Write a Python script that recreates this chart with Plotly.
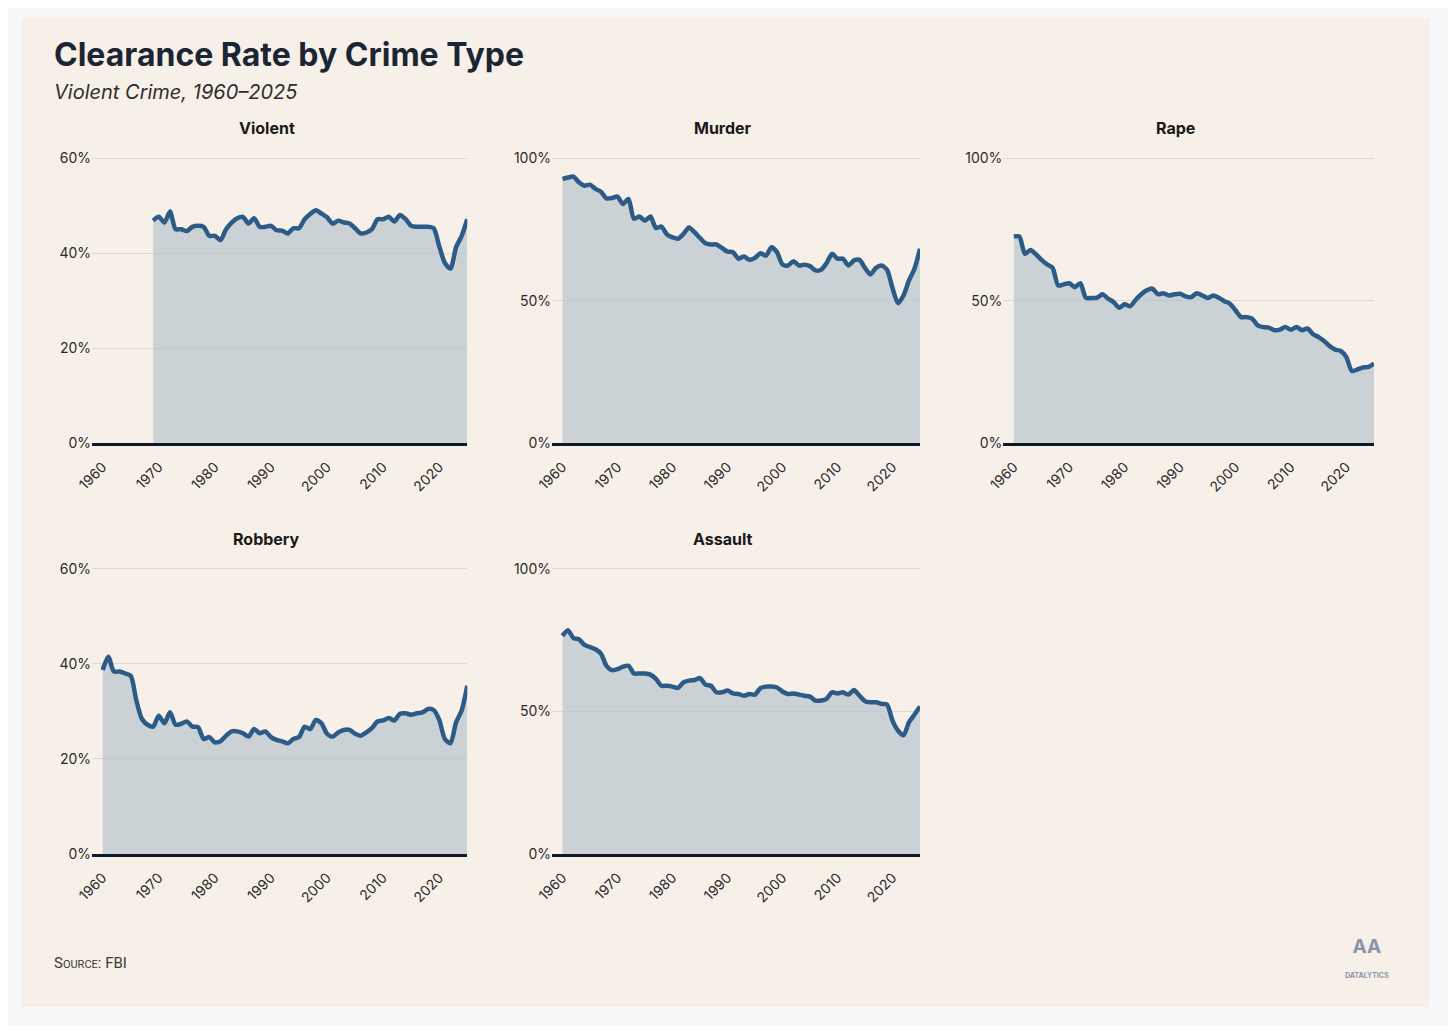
import plotly.graph_objects as go
from plotly.subplots import make_subplots

years = list(range(1960, 2026))
violent_years = list(range(1969, 2026))

violent = [46.9, 47.7, 46.5, 48.8, 45.1, 45.1, 44.7, 45.6, 45.8, 45.6,
           43.7, 43.7, 42.8, 45.1, 46.5, 47.4, 47.7, 46.3, 47.4, 45.6,
           45.6, 45.8, 44.9, 44.8, 44.2, 45.3, 45.3, 47.2, 48.3, 49.1,
           48.4, 47.6, 46.3, 46.9, 46.5, 46.3, 45.3, 44.2, 44.4, 45.1,
           47.2, 47.2, 47.7, 46.7, 48.1, 47.2, 45.8, 45.6, 45.6, 45.6,
           45.3, 41.5, 38.0, 36.8, 41.3, 43.7, 47.2]

murder = [92.8, 93.3, 93.6, 91.6, 90.4, 90.8, 89.3, 88.3, 86.0, 86.1,
          86.6, 84.0, 85.8, 78.8, 79.6, 78.2, 79.6, 75.6, 76.1, 73.3,
          72.3, 71.8, 73.5, 75.8, 74.1, 72.1, 70.2, 69.8, 69.8, 68.6,
          67.3, 67.1, 64.8, 65.6, 64.4, 65.1, 66.7, 65.9, 68.8, 67.1,
          62.8, 62.4, 63.9, 62.4, 62.7, 62.2, 60.7, 60.9, 63.2, 66.5,
          64.8, 64.8, 62.4, 64.2, 64.4, 61.6, 59.3, 61.6, 62.4, 60.9,
          54.5, 49.2, 51.9, 57.2, 61.3, 68.3]

rape = [72.6, 72.6, 66.5, 67.9, 66.3, 64.4, 62.8, 61.6, 55.4, 55.8,
        56.2, 54.8, 56.2, 51.1, 51.0, 51.1, 52.3, 50.8, 49.6, 47.6,
        48.8, 48.1, 50.4, 52.3, 53.7, 54.3, 52.3, 52.7, 51.9, 52.3,
        52.5, 51.6, 51.3, 52.7, 51.9, 51.0, 51.9, 51.1, 49.9, 49.0,
        46.7, 44.3, 44.3, 43.8, 41.4, 40.8, 40.6, 39.7, 39.9, 40.8,
        39.9, 40.8, 39.7, 40.3, 38.3, 37.3, 35.9, 34.1, 32.9, 32.4,
        30.3, 25.4, 25.9, 26.6, 26.8, 28.0]

robbery = [38.7, 41.5, 38.4, 38.4, 38.0, 37.5, 32.3, 28.4, 27.2, 26.8,
           29.1, 27.5, 29.8, 27.2, 27.4, 27.9, 26.8, 26.7, 24.2, 24.6,
           23.5, 23.7, 24.9, 25.8, 25.8, 25.4, 24.7, 26.3, 25.4, 25.8,
           24.6, 24.0, 23.7, 23.3, 24.2, 24.6, 26.8, 26.3, 28.2, 27.5,
           25.3, 24.7, 25.6, 26.1, 26.1, 25.3, 24.9, 25.6, 26.5, 27.9,
           28.1, 28.6, 28.1, 29.5, 29.6, 29.3, 29.6, 29.8, 30.5, 30.3,
           28.2, 24.2, 23.3, 27.7, 30.2, 35.4]

assault = [76.5, 78.5, 75.7, 75.3, 73.3, 72.6, 71.8, 70.3, 66.0, 64.5,
           64.8, 65.7, 66.0, 63.3, 63.3, 63.3, 62.9, 61.4, 59.0, 59.0,
           58.7, 58.2, 60.2, 60.8, 61.0, 61.7, 59.4, 59.0, 56.7, 56.7,
           57.3, 56.3, 56.1, 55.5, 56.1, 55.9, 58.2, 58.7, 58.7, 58.4,
           57.0, 56.1, 56.3, 55.9, 55.5, 55.2, 53.8, 53.8, 54.4, 56.7,
           56.3, 56.7, 55.9, 57.5, 55.5, 53.6, 53.2, 53.2, 52.6, 52.4,
           46.8, 43.3, 41.6, 46.2, 48.9, 51.7]

decade_ticks = [1960, 1970, 1980, 1990, 2000, 2010, 2020]
ticks_60 = [0, 20, 40, 60]
ticks_100 = [0, 50, 100]

# name, x, y, y max, y ticks, row, col
panels = [
    ("Violent", violent_years, violent, 60, ticks_60, 1, 1),
    ("Murder", years, murder, 100, ticks_100, 1, 2),
    ("Rape", years, rape, 100, ticks_100, 1, 3),
    ("Robbery", years, robbery, 60, ticks_60, 2, 1),
    ("Assault", years, assault, 100, ticks_100, 2, 2),
]

# page is drawn 8px in from the browser edge (body margin)
W, H, OFF = 1440, 1017, 8


def fx(x):
    return (x - OFF) / W


def fy(y):
    return 1 - (y - OFF) / H


col_px = {1: (92, 467.3), 2: (552, 920), 3: (1003.3, 1374)}
row_px = {1: (443.3, 157.3), 2: (854, 567.7)}

FONT = "Inter"
INK = "#1b2533"
LINE = "#2c5b88"
FILL = "rgba(184,196,205,0.7)"  # lets the grid show through, like the original
CREAM = "#f7f0e8"
TICKS = dict(family=FONT, size=14, color="#2b2b2b")

fig = make_subplots(rows=2, cols=3)

annotations = []
for name, xs, ys, ymax, yticks, r, c in panels:
    fig.add_trace(go.Scatter(
        x=xs, y=ys, mode="lines", fill="tozeroy", fillcolor=FILL,
        line=dict(color=LINE, width=4.5, shape="spline", smoothing=0.7),
        hoverinfo="x+y", showlegend=False,
    ), row=r, col=c)
    x0, x1 = col_px[c]
    yb, yt = row_px[r]
    fig.update_xaxes(
        domain=[fx(x0), fx(x1)], range=[1958.1, 2025],
        tickvals=decade_ticks, tickangle=-45, showgrid=False,
        showline=True, linewidth=3, linecolor="#0e1a28",
        zeroline=False, ticks="", tickfont=TICKS, ticklabelstandoff=7,
        automargin=False, row=r, col=c)
    fig.update_yaxes(
        domain=[fy(yb), fy(yt)], range=[0, ymax * 1.004],
        tickvals=yticks, ticktext=["%d%%" % v for v in yticks],
        showgrid=True, gridcolor="#ddd7ce", gridwidth=1, zeroline=False,
        showline=False, ticks="", tickfont=TICKS, automargin=False,
        row=r, col=c)
    annotations.append(dict(
        text="<b>%s</b>" % name, x=fx((x0 + x1) / 2 - 13), y=fy(yt - 29),
        xanchor="center", yanchor="middle",
        font=dict(family=FONT, size=16, color="#1a1a1a")))

# empty sixth cell
fig.update_xaxes(visible=False, automargin=False, row=2, col=3)
fig.update_yaxes(visible=False, automargin=False, row=2, col=3)

annotations += [
    dict(text="<b>Clearance Rate by Crime Type</b>", x=fx(52), y=fy(54),
         xanchor="left", yanchor="middle",
         font=dict(family=FONT, size=32, color=INK, weight=900)),
    dict(text="<i>Violent Crime, 1960–2025</i>", x=fx(52), y=fy(92),
         xanchor="left", yanchor="middle",
         font=dict(family=FONT, size=20, color="#2e2e2e")),
    dict(text='S<span style="font-size:11px">OURCE</span>: FBI', x=fx(52), y=fy(963),
         xanchor="left", yanchor="middle",
         font=dict(family="Liberation Sans Narrow, Roboto", size=15, color="#3c3c3c")),
    dict(text='<b>AA</b><br><b><span style="font-size:7px">DATALYTICS</span></b>',
         x=fx(1367), y=fy(957), xanchor="center", yanchor="middle",
         font=dict(family=FONT, size=19, color="#8a94a8")),
]
for a in annotations:
    a.setdefault("xref", "paper")
    a.setdefault("yref", "paper")
    a.setdefault("showarrow", False)

fig.update_layout(
    width=W, height=H,
    margin=dict(l=0, r=0, t=0, b=0, autoexpand=False),
    paper_bgcolor="#f7f8fa",
    plot_bgcolor="rgba(0,0,0,0)",
    font=dict(family=FONT),
    annotations=annotations,
    shapes=[dict(type="rect", xref="paper", yref="paper",
                 x0=fx(21), x1=fx(1429), y0=fy(1007), y1=fy(18),
                 fillcolor=CREAM, line=dict(width=0), layer="below")],
)

fig.write_html("out.html")
